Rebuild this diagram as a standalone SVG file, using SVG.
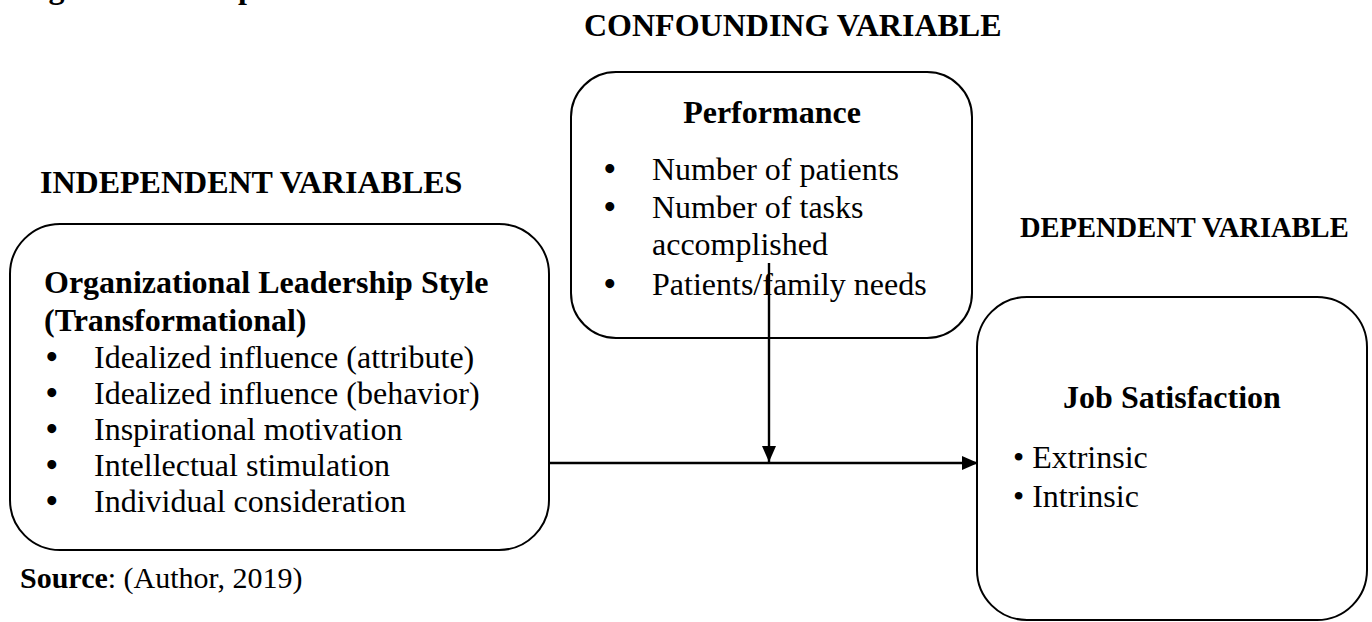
<svg xmlns="http://www.w3.org/2000/svg" width="1372" height="622" viewBox="0 0 1372 622">
<style>
text{font-family:"Liberation Serif","Times New Roman",serif;fill:#000;font-size:32px}
.b{font-weight:bold}
.bu{font-size:33px;font-weight:bold}
.box{fill:#fff;stroke:#000;stroke-width:2}
.con{stroke:#000;stroke-width:2.4;fill:none}
</style>
<defs>
<marker id="ah2" viewBox="0 0 16 14" refX="16" refY="7" markerWidth="16" markerHeight="14" orient="auto" markerUnits="userSpaceOnUse">
<path d="M0,0 L16,7 L0,14 Z" fill="#000"/>
</marker>
</defs>
<rect width="1372" height="622" fill="#fff"/>
<g id="title">
<text class="b" x="20" y="-2.5">Figure 1: Conceptual Framework</text>
</g>
<g id="labels">
<text class="b" x="584" y="36">CONFOUNDING VARIABLE</text>
<text class="b" x="40" y="193">INDEPENDENT VARIABLES</text>
<text class="b" x="1020" y="237" style="font-size:28.5px">DEPENDENT VARIABLE</text>
<text x="20" y="588" style="font-size:30px"><tspan class="b">Source</tspan>: (Author, 2019)</text>
</g>
<g id="node-leadership">
<rect class="box" x="10" y="224" width="539" height="326" rx="50" ry="50"/>
<text class="b" x="44" y="293">Organizational Leadership Style</text>
<text class="b" x="44" y="331">(Transformational)</text>
<text class="bu" x="46" y="368">•</text><text x="94" y="368">Idealized influence (attribute)</text>
<text class="bu" x="46" y="404">•</text><text x="94" y="404">Idealized influence (behavior)</text>
<text class="bu" x="46" y="440">•</text><text x="94" y="440">Inspirational motivation</text>
<text class="bu" x="46" y="476">•</text><text x="94" y="476">Intellectual stimulation</text>
<text class="bu" x="46" y="512">•</text><text x="94" y="512">Individual consideration</text>
</g>
<g id="node-performance">
<rect class="box" x="571" y="72" width="401" height="266" rx="45" ry="45"/>
<text class="b" x="772" y="123" text-anchor="middle">Performance</text>
<text class="bu" x="604" y="180">•</text><text x="652" y="180">Number of patients</text>
<text class="bu" x="604" y="218">•</text><text x="652" y="218">Number of tasks</text>
<text x="652" y="255">accomplished</text>
<text class="bu" x="604" y="295">•</text><text x="652" y="295">Patients/family needs</text>
</g>
<g id="node-job">
<rect class="box" x="977" y="297" width="390" height="323" rx="50" ry="50"/>
<text class="b" x="1172" y="408" text-anchor="middle">Job Satisfaction</text>
<text x="1013" y="468">• Extrinsic</text>
<text x="1013" y="507">• Intrinsic</text>
</g>
<g id="connectors">
<line class="con" x1="549" y1="463" x2="978" y2="463" marker-end="url(#ah2)"/>
<line class="con" x1="769" y1="263" x2="769" y2="462" marker-end="url(#ah2)"/>
</g>
</svg>
